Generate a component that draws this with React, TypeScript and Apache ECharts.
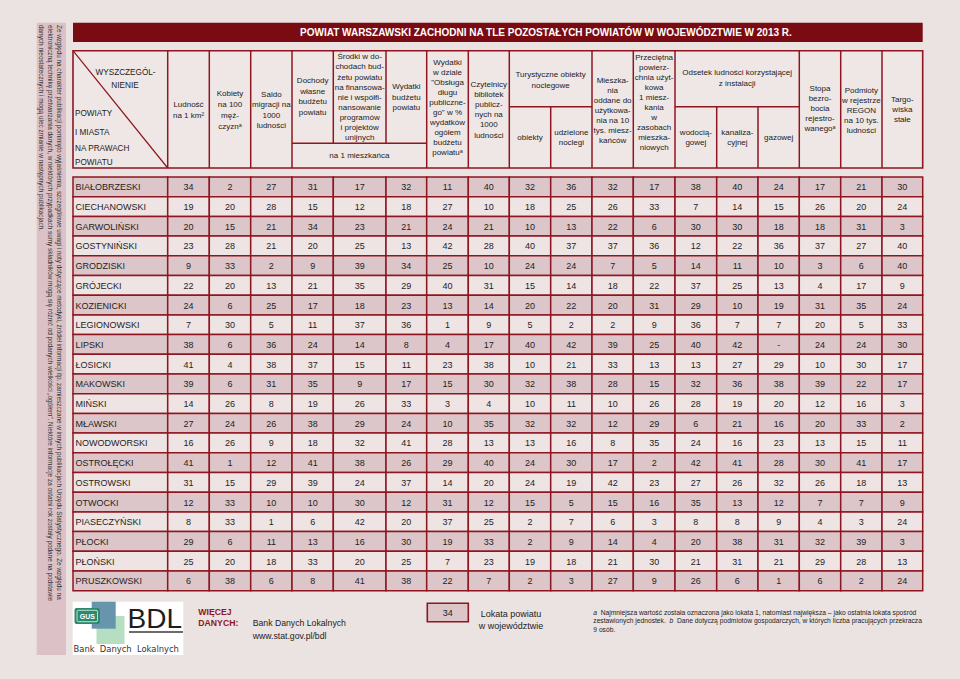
import React, { useEffect, useRef } from "react";
import * as echarts from "echarts";

// ---------- DATA ----------
const powiaty = [
  "BIAŁOBRZESKI", "CIECHANOWSKI", "GARWOLIŃSKI", "GOSTYNIŃSKI", "GRODZISKI", "GRÓJECKI",
  "KOZIENICKI", "LEGIONOWSKI", "LIPSKI", "ŁOSICKI", "MAKOWSKI", "MIŃSKI", "MŁAWSKI",
  "NOWODWORSKI", "OSTROŁĘCKI", "OSTROWSKI", "OTWOCKI", "PIASECZYŃSKI", "PŁOCKI", "PŁOŃSKI", "PRUSZKOWSKI",
];
const ludnosc = [34, 19, 20, 23, 9, 22, 24, 7, 38, 41, 39, 14, 27, 16, 41, 31, 12, 8, 29, 25, 6];
const kobiety = [2, 20, 15, 28, 33, 20, 6, 30, 6, 4, 6, 26, 24, 26, 1, 15, 33, 33, 6, 20, 38];
const saldoMigracji = [27, 28, 21, 21, 2, 13, 25, 5, 36, 38, 31, 8, 26, 9, 12, 29, 10, 1, 11, 18, 6];
const dochodyWlasne = [31, 15, 34, 20, 9, 21, 17, 11, 24, 37, 35, 19, 38, 18, 41, 39, 10, 6, 13, 33, 8];
const srodkiUnijne = [17, 12, 23, 25, 39, 35, 18, 37, 14, 15, 9, 26, 29, 32, 38, 24, 30, 42, 16, 20, 41];
const wydatki = [32, 18, 21, 13, 34, 29, 23, 36, 8, 11, 17, 33, 24, 41, 26, 37, 12, 20, 30, 25, 38];
const obslugaDlugu = [11, 27, 24, 42, 25, 40, 13, 1, 4, 23, 15, 3, 10, 28, 29, 14, 31, 37, 19, 7, 22];
const czytelnicy = [40, 10, 21, 28, 10, 31, 14, 9, 17, 38, 30, 4, 35, 13, 40, 20, 12, 25, 33, 23, 7];
const obiekty = [32, 18, 10, 40, 24, 15, 20, 5, 40, 10, 32, 10, 32, 13, 24, 24, 15, 2, 2, 19, 2];
const noclegi = [36, 25, 13, 37, 24, 14, 22, 2, 42, 21, 38, 11, 32, 16, 30, 19, 5, 7, 9, 18, 3];
const mieszkania = [32, 26, 22, 37, 7, 18, 20, 2, 39, 33, 28, 10, 12, 8, 17, 42, 15, 6, 14, 21, 27];
const powierzchnia = [17, 33, 6, 36, 5, 22, 31, 9, 25, 13, 15, 26, 29, 35, 2, 23, 16, 3, 4, 30, 9];
const wodociag = [38, 7, 30, 12, 14, 37, 29, 36, 40, 13, 32, 28, 6, 24, 42, 27, 35, 8, 20, 21, 26];
const kanalizacja = [40, 14, 30, 22, 11, 25, 10, 7, 42, 27, 36, 19, 21, 16, 41, 26, 13, 8, 38, 31, 6];
const gaz = [24, 15, 18, 36, 10, 13, 19, 7, null, 29, 38, 20, 16, 23, 28, 32, 12, 9, 31, 21, 1];
const bezrobocie = [17, 26, 18, 37, 3, 4, 31, 20, 24, 10, 39, 12, 20, 13, 30, 26, 7, 4, 32, 29, 6];
const regon = [21, 20, 31, 27, 6, 17, 35, 5, 24, 30, 22, 16, 33, 15, 41, 18, 7, 3, 39, 28, 2];
const targowiska = [30, 24, 3, 40, 40, 9, 24, 33, 30, 17, 17, 3, 2, 11, 17, 13, 9, 24, 3, 13, 24];

const columns: (number | null)[][] = [
  ludnosc, kobiety, saldoMigracji, dochodyWlasne, srodkiUnijne, wydatki, obslugaDlugu, czytelnicy,
  obiekty, noclegi, mieszkania, powierzchnia, wodociag, kanalizacja, gaz, bezrobocie, regon, targowiska,
];

const titleText = "POWIAT WARSZAWSKI ZACHODNI NA TLE POZOSTAŁYCH POWIATÓW W WOJEWÓDZTWIE W 2013 R.";
const lokata = "34";

// ---------- LAYOUT ----------
const FONT = '"Liberation Sans", Arial, sans-serif';
const BORDER = "#8f1620";
const DARK = "#dcc6c9";
const LIGHT = "#eee4e3";
const BG = "#ebe3e1";
const TABLE_LEFT = 73;
const TABLE_TOP = 177;
const TABLE_H = 413.7;
const colWidths = [94.7, 41.6, 41.4, 41.3, 41.3, 52.7, 40.7, 41.6, 41.0, 41.4, 41.3, 41.3, 41.7, 41.7, 41.3, 41.3, 41.4, 41.3, 40.7];
const edges: number[] = [0];
colWidths.forEach((w) => edges.push(edges[edges.length - 1] + w));
const TOTAL = edges[edges.length - 1];
const E = (i: number) => TABLE_LEFT + edges[i];

const H_TOP = 50.7;
const H_BOT = 168;
const H_MID1 = 106.7;
const H_MID2 = 143.3;

const headerCells = [
  { a: 1, b: 2, cy: 109.5, lh: 11, lines: ["Ludność", "na 1 km²"] },
  { a: 2, b: 3, cy: 110, lh: 11, lines: ["Kobiety", "na 100", "męż-", "czyznᵃ"] },
  { a: 3, b: 4, cy: 110, lh: 10.6, lines: ["Saldo", "migracji na", "1000", "ludności"] },
  { a: 4, b: 5, cy: 96.5, lh: 10.4, lines: ["Dochody", "własne", "budżetu", "powiatu"] },
  { a: 5, b: 6, cy: 97.2, lh: 10.1, lines: ["Środki w do-", "chodach bud-", "żetu powiatu", "na finansowa-", "nie i współfi-", "nansowanie", "programów", "i projektów", "unijnych"] },
  { a: 6, b: 7, cy: 97, lh: 10.2, lines: ["Wydatki", "budżetu", "powiatu"] },
  { a: 4, b: 7, cy: 155.7, lh: 10, lines: ["na 1 mieszkańca"] },
  { a: 7, b: 8, cy: 107.5, lh: 10.1, lines: ["Wydatki", "w dziale", "\"Obsługa", "długu", "publiczne-", "go\" w %", "wydatków", "ogółem", "budżetu", "powiatuᵃ"] },
  { a: 8, b: 9, cy: 109.5, lh: 10.2, lines: ["Czytelnicy", "bibliotek", "publicz-", "nych na", "1000", "ludności"] },
  { a: 9, b: 11, cy: 80, lh: 10.2, lines: ["Turystyczne obiekty", "noclegowe"] },
  { a: 9, b: 10, cy: 137.5, lh: 10.5, lines: ["obiekty"] },
  { a: 10, b: 11, cy: 137.5, lh: 10.5, lines: ["udzielone", "noclegi"] },
  { a: 11, b: 12, cy: 110.5, lh: 9.9, lines: ["Mieszka-", "nia", "oddane do", "użytkowa-", "nia na 10", "tys. miesz-", "kańców"] },
  { a: 12, b: 13, cy: 102, lh: 10, lines: ["Przeciętna", "powierz-", "chnia użyt-", "kowa", "1 miesz-", "kania", "w", "zasobach", "mieszka-", "niowych"] },
  { a: 13, b: 16, cy: 78, lh: 10.2, lines: ["Odsetek ludności korzystającej", "z instalacji"] },
  { a: 13, b: 14, cy: 137.5, lh: 10.5, lines: ["wodocią-", "gowej"] },
  { a: 14, b: 15, cy: 137.5, lh: 10.5, lines: ["kanaliza-", "cyjnej"] },
  { a: 15, b: 16, cy: 137.5, lh: 10.5, lines: ["gazowej"] },
  { a: 16, b: 17, cy: 108.5, lh: 10.2, lines: ["Stopa", "bezro-", "bocia", "rejestro-", "wanegoᵃ"] },
  { a: 17, b: 18, cy: 110, lh: 10, lines: ["Podmioty", "w rejestrze", "REGON", "na 10 tys.", "ludności"] },
  { a: 18, b: 19, cy: 109, lh: 10, lines: ["Targo-", "wiska", "stałe"] },
];

const sideLines = [
  "Ze względu na charakter publikacji pominięto wyjaśnienia, szczegółowe uwagi i noty dotyczące metodyki, źródeł informacji itp. zamieszczane w innych publikacjach Urzędu Statystycznego. Ze względu na",
  "elektroniczną technikę przetwarzania danych, w niektórych przypadkach sumy składników mogą się różnić od podanych wielkości „ogółem”. Niektóre informacje za ostatni rok zostały podane na podstawie",
  "danych nieostatecznych i mogą ulec zmianie w następnych publikacjach.",
];

function line(x1: number, y1: number, x2: number, y2: number, w = 1.5, stroke = BORDER) {
  return { type: "line", shape: { x1, y1, x2, y2 }, style: { stroke, lineWidth: w }, z: 20 };
}
function txt(x: number, y: number, text: string, extra: any = {}, z = 21) {
  return {
    type: "text", x, y, z,
    style: { text, fill: "#222", fontFamily: FONT, fontSize: 8, align: "center", verticalAlign: "middle", ...extra },
  };
}

function buildGraphics() {
  const g: any[] = [];
  // side strip
  g.push({ type: "rect", shape: { x: 36.7, y: 22.7, width: 29.3, height: 632.3 }, style: { fill: "#dcc2c6" }, z: 1 });
  const sideX = [59.3, 50.2, 41.3];
  sideLines.forEach((t, i) => {
    g.push({
      type: "text", x: sideX[i], y: 25, rotation: -Math.PI / 2, z: 2,
      style: { text: t, fill: "#333", fontFamily: FONT, fontSize: 6.4, align: "left", verticalAlign: "middle" },
    });
  });
  // title bar
  g.push({ type: "rect", shape: { x: E(0), y: 22.7, width: E(19) - E(0), height: 19.3 }, style: { fill: "#7b0b12" }, z: 5 });
  g.push(txt(300, 32.6, titleText, { fill: "#fff", fontWeight: "bold", fontSize: 10, align: "left" }, 6));
  // header box
  g.push({ type: "rect", shape: { x: E(0), y: H_TOP, width: E(19) - E(0), height: H_BOT - H_TOP }, style: { fill: "#efe7e5", stroke: BORDER, lineWidth: 1.6 }, z: 10 });
  [1, 2, 3, 4, 7, 8, 9, 11, 12, 13, 16, 17, 18].forEach((i) => g.push(line(E(i), H_TOP, E(i), H_BOT)));
  [5, 6].forEach((i) => g.push(line(E(i), H_TOP, E(i), H_MID2)));
  g.push(line(E(4), H_MID2, E(7), H_MID2));
  [10, 14, 15].forEach((i) => g.push(line(E(i), H_MID1, E(i), H_BOT)));
  g.push(line(E(9), H_MID1, E(11), H_MID1));
  g.push(line(E(13), H_MID1, E(16), H_MID1));
  g.push(line(E(0), H_TOP, E(1), H_BOT, 1.2));
  // name header
  g.push(txt(125.5, 72, "WYSZCZEGÓL-", { fontSize: 8.2 }));
  g.push(txt(125, 85, "NIENIE", { fontSize: 8.2 }));
  [["POWIATY", 113], ["I MIASTA", 132], ["NA PRAWACH", 148], ["POWIATU", 162]].forEach(([t, y]) =>
    g.push(txt(E(0) + 2, y as number, t as string, { fontSize: 8.2, align: "left" }))
  );
  headerCells.forEach((h) => {
    g.push(txt((E(h.a) + E(h.b)) / 2, h.cy, h.lines.join("\n"), { lineHeight: h.lh }));
  });

  // footer logo
  g.push({ type: "rect", shape: { x: 72.7, y: 601.7, width: 110.6, height: 53.3 }, style: { fill: "#ffffff" }, z: 5 });
  g.push({ type: "rect", shape: { x: 96.5, y: 616, width: 28, height: 28 }, style: { fill: "#b6dfc2" }, z: 6 });
  g.push({ type: "rect", shape: { x: 91.7, y: 601.7, width: 24, height: 27 }, style: { fill: "#6795ad" }, z: 7 });
  g.push({ type: "rect", shape: { x: 74.5, y: 608, width: 25.5, height: 16, r: 2 }, style: { fill: "#2c8a6c" }, z: 8 });
  g.push({ type: "rect", shape: { x: 77, y: 610.3, width: 20.5, height: 11.4, r: 1.5 }, style: { fill: "none", stroke: "#e6f2ec", lineWidth: 0.8 }, z: 9 });
  g.push(txt(87.3, 616.2, "GUS", { fill: "#ffffff", fontSize: 7, fontWeight: "bold" }, 9));
  g.push(txt(127.5, 618.5, "BDL", { fill: "#1d1d1d", fontSize: 28, align: "left" }, 8));
  g.push(line(129, 632, 183, 632, 1.6, "#3a3a3a"));
  g.push(txt(73.5, 649, "Bank  Danych  Lokalnych", { fill: "#333", fontSize: 8.4, fontFamily: '"DejaVu Sans", sans-serif', align: "left" }, 8));
  // more data
  g.push(txt(198.3, 611.7, "WIĘCEJ", { fill: "#8f1620", fontSize: 8.7, fontWeight: "bold", align: "left" }));
  g.push(txt(198.3, 623.3, "DANYCH:", { fill: "#8f1620", fontSize: 8.7, fontWeight: "bold", align: "left" }));
  g.push(txt(252.7, 623.3, "Bank Danych Lokalnych", { fontSize: 8.7, align: "left" }));
  g.push(txt(252.7, 635.7, "www.stat.gov.pl/bdl", { fontSize: 8.7, align: "left" }));
  // rank box
  g.push({ type: "rect", shape: { x: 427.3, y: 603.3, width: 41, height: 18.4 }, style: { fill: DARK, stroke: BORDER, lineWidth: 1.6 }, z: 10 });
  g.push(txt(447.8, 612.6, lokata, { fontSize: 9 }));
  g.push(txt(511, 614.3, "Lokata powiatu", { fontSize: 9 }));
  g.push(txt(511, 625.5, "w województwie", { fontSize: 9 }));
  // footnote
  const fn = {
    fontSize: 6.7, align: "left", lineHeight: 8.3, verticalAlign: "top",
    rich: { i: { fontStyle: "italic", fontSize: 6.7, fontFamily: FONT, fill: "#222" } },
  };
  g.push(txt(593.3, 608.5,
    "{i|a}  Najmniejsza wartość została oznaczona jako lokata 1, natomiast największa – jako ostatnia lokata spośród\nzestawionych jednostek.  {i|b}  Dane dotyczą podmiotów gospodarczych, w których liczba pracujących przekracza\n9 osób.",
    fn));
  return g;
}

export default function App() {
  const ref = useRef<HTMLDivElement>(null);
  useEffect(() => {
    if (!ref.current) return;
    const chart = echarts.init(ref.current, undefined, { renderer: "svg" });
    const data: number[][] = [];
    for (let r = 0; r < powiaty.length; r++) {
      for (let c = 0; c <= columns.length; c++) data.push([c, r]);
    }
    const renderItem = (_params: any, api: any) => {
      const c = api.value(0) as number;
      const r = api.value(1) as number;
      const p0 = api.coord([edges[c], r]);
      const p1 = api.coord([edges[c + 1], r + 1]);
      const fill = r % 2 === 0 ? DARK : LIGHT;
      let text: string;
      if (c === 0) text = powiaty[r];
      else {
        const v = columns[c - 1][r];
        text = v === null || v === undefined ? "-" : String(v);
      }
      return {
        type: "group",
        children: [
          {
            type: "rect",
            shape: { x: p0[0], y: p0[1], width: p1[0] - p0[0], height: p1[1] - p0[1] },
            style: { fill, stroke: BORDER, lineWidth: 1.5 },
          },
          {
            type: "text",
            x: c === 0 ? p0[0] + 2.5 : (p0[0] + p1[0]) / 2,
            y: (p0[1] + p1[1]) / 2 + 0.5,
            style: {
              text, fill: "#1e1e1e", fontFamily: FONT, fontSize: 9,
              align: c === 0 ? "left" : "center", verticalAlign: "middle",
            },
          },
        ],
      };
    };
    chart.setOption({
      animation: false,
      backgroundColor: BG,
      grid: { left: TABLE_LEFT, top: TABLE_TOP, width: TOTAL, height: TABLE_H },
      xAxis: { type: "value", min: 0, max: TOTAL, show: false },
      yAxis: { type: "value", min: 0, max: powiaty.length, inverse: true, show: false },
      series: [
        {
          type: "custom",
          renderItem,
          data,
          clip: false,
          silent: true,
        },
      ],
      graphic: { elements: buildGraphics() },
    });
    return () => chart.dispose();
  }, []);
  return <div ref={ref} style={{ position: "absolute", left: 0, top: 0, width: 960, height: 679 }} />;
}
